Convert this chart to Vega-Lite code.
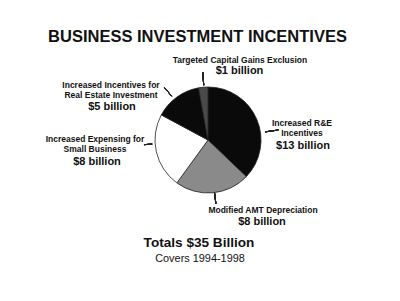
{
  "$schema": "https://vega.github.io/schema/vega-lite/v6.json",
  "autosize": "none",
  "width": 384,
  "height": 280,
  "padding": {"left": 16, "top": 0, "right": 0, "bottom": 0},
  "background": "white",
  "config": {"view": {"stroke": null}, "text": {"font": "Liberation Sans", "fontWeight": "bold", "baseline": "alphabetic", "align": "center", "color": "#111"}},
  "data": {"values": [
    {"idx": 1, "category": "Increased R&E Incentives", "value": 13, "name": "Increased R&E\nIncentives", "amount": "$13 billion"},
    {"idx": 2, "category": "Modified AMT Depreciation", "value": 8, "name": "Modified AMT Depreciation", "amount": "$8 billion"},
    {"idx": 3, "category": "Increased Expensing for Small Business", "value": 8, "name": "Increased Expensing for\nSmall Business", "amount": "$8 billion"},
    {"idx": 4, "category": "Increased Incentives for Real Estate Investment", "value": 5, "name": "Increased Incentives for\nReal Estate Investment", "amount": "$5 billion"},
    {"idx": 5, "category": "Targeted Capital Gains Exclusion", "value": 1, "name": "Targeted Capital Gains Exclusion", "amount": "$1 billion"}
  ]},
  "layer": [
    {
      "mark": {"type": "arc", "outerRadius": 53, "stroke": "#222", "strokeWidth": 0.8},
      "encoding": {
        "theta": {"field": "value", "type": "quantitative", "stack": true},
        "order": {"field": "idx", "type": "quantitative"},
        "color": {"field": "category", "type": "nominal", "legend": null,
          "scale": {"domain": ["Increased R&E Incentives", "Modified AMT Depreciation", "Increased Expensing for Small Business", "Increased Incentives for Real Estate Investment", "Targeted Capital Gains Exclusion"],
                    "range": ["#0a0a0a", "#8a8a8a", "#ffffff", "#0a0a0a", "#4a4a4a"]}}
      }
    },
    {"mark": {"type": "arc", "theta": 6.205, "theta2": 6.206, "radius": 68, "radius2": 55, "stroke": "#222", "strokeWidth": 1}, "encoding": {}},
    {"mark": {"type": "arc", "theta": 5.590, "theta2": 5.591, "radius": 68, "radius2": 57, "stroke": "#222", "strokeWidth": 1}, "encoding": {}},
    {"mark": {"type": "arc", "theta": 4.639, "theta2": 4.640, "radius": 64, "radius2": 56, "stroke": "#222", "strokeWidth": 1}, "encoding": {}},
    {"mark": {"type": "arc", "theta": 1.429, "theta2": 1.430, "radius": 71, "radius2": 58, "stroke": "#222", "strokeWidth": 1}, "encoding": {}},
    {"mark": {"type": "arc", "theta": 3.018, "theta2": 3.019, "radius": 64, "radius2": 53, "stroke": "#222", "strokeWidth": 1}, "encoding": {}},
    {"transform": [{"filter": "datum.idx == 1"}], "mark": {"type": "text", "fontSize": 8.5, "lineBreak": "\n", "lineHeight": 9.5, "dx": 94, "dy": -14}, "encoding": {"text": {"field": "name"}}},
    {"transform": [{"filter": "datum.idx == 2"}], "mark": {"type": "text", "fontSize": 8.5, "lineBreak": "\n", "lineHeight": 9.5, "dx": 55, "dy": 72.7}, "encoding": {"text": {"field": "name"}}},
    {"transform": [{"filter": "datum.idx == 3"}], "mark": {"type": "text", "fontSize": 8.5, "lineBreak": "\n", "lineHeight": 9.5, "dx": -113, "dy": 2.3}, "encoding": {"text": {"field": "name"}}},
    {"transform": [{"filter": "datum.idx == 4"}], "mark": {"type": "text", "fontSize": 8.5, "lineBreak": "\n", "lineHeight": 10, "dx": -97, "dy": -51.7}, "encoding": {"text": {"field": "name"}}},
    {"transform": [{"filter": "datum.idx == 5"}], "mark": {"type": "text", "fontSize": 8.5, "lineBreak": "\n", "dx": 32, "dy": -76.7}, "encoding": {"text": {"field": "name"}}},
    {"transform": [{"filter": "datum.idx == 1"}], "mark": {"type": "text", "fontSize": 11, "dx": 95, "dy": 8.7}, "encoding": {"text": {"field": "amount"}}},
    {"transform": [{"filter": "datum.idx == 2"}], "mark": {"type": "text", "fontSize": 11, "dx": 54, "dy": 85.3}, "encoding": {"text": {"field": "amount"}}},
    {"transform": [{"filter": "datum.idx == 3"}], "mark": {"type": "text", "fontSize": 11, "dx": -111, "dy": 25}, "encoding": {"text": {"field": "amount"}}},
    {"transform": [{"filter": "datum.idx == 4"}], "mark": {"type": "text", "fontSize": 11, "dx": -96, "dy": -29.7}, "encoding": {"text": {"field": "amount"}}},
    {"transform": [{"filter": "datum.idx == 5"}], "mark": {"type": "text", "fontSize": 11, "dx": 31.5, "dy": -65.7}, "encoding": {"text": {"field": "amount"}}},
    {"data": {"values": [{"t": "BUSINESS INVESTMENT INCENTIVES"}]}, "mark": {"type": "text", "fontSize": 16.5, "dx": -10.5, "dy": -97.7}, "encoding": {"text": {"field": "t"}}},
    {"data": {"values": [{"t": "Totals $35 Billion"}]}, "mark": {"type": "text", "fontSize": 13.6, "dx": -9, "dy": 107.3}, "encoding": {"text": {"field": "t"}}},
    {"data": {"values": [{"t": "Covers 1994-1998"}]}, "mark": {"type": "text", "fontSize": 10.9, "fontWeight": "normal", "dx": -8, "dy": 122}, "encoding": {"text": {"field": "t"}}}
  ]
}
